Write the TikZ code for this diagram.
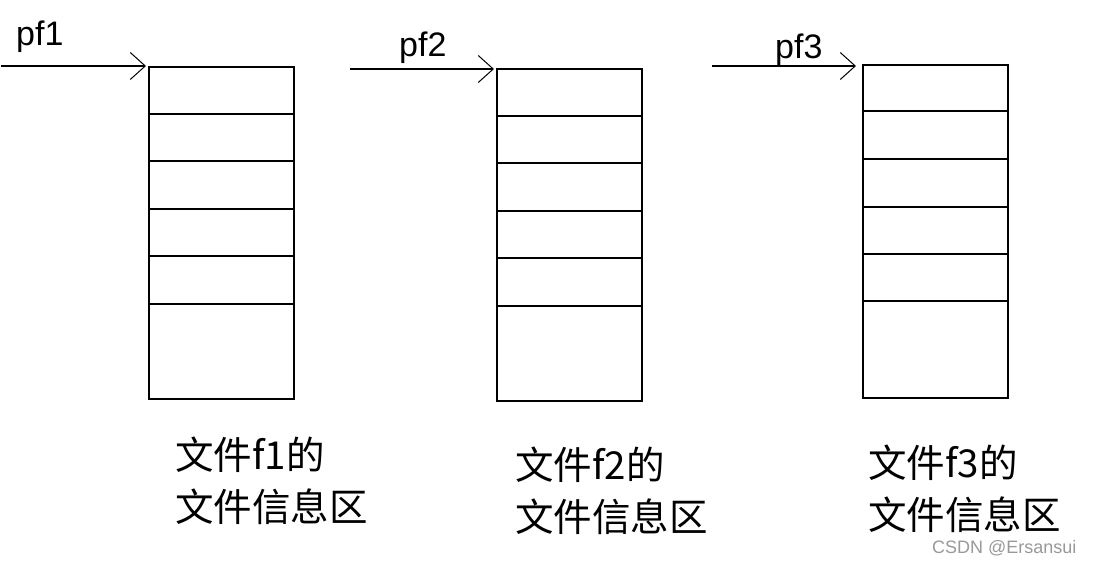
\documentclass[tikz,border=0pt]{standalone}
\usepackage{fontspec}
\setmainfont{Liberation Sans}
\newfontfamily\cjk{Noto Sans CJK SC}
\usetikzlibrary{arrows.meta}
\begin{document}
\begin{tikzpicture}[x=1pt,y=-1pt,
  frame/.style={draw, line width=2pt, minimum width=145pt, inner sep=0, anchor=north west},
  divider/.style={line width=2pt},
  ptr/.style={line width=1.6pt, -{Straight Barb[length=15pt,width=27pt,line width=1pt]}},
  lbl/.style={font=\fontsize{34}{40}\selectfont, anchor=base west, inner sep=0},
  captext/.style={font=\cjk\fontsize{38.5}{52}\selectfont, align=left, anchor=north west, inner sep=0},
  wm/.style={font=\fontsize{18}{22}\selectfont, text=black!40, anchor=base west, inner sep=0}]
\useasboundingbox (0,0) rectangle (1095,564);
\fill[white] (0,0) rectangle (1095,564);

% boxes
\node[frame, minimum height=332pt] (b1) at (148,66) {};
\node[frame, minimum height=332pt] (b2) at (496,68) {};
\node[frame, minimum height=333pt] (b3) at (862,64) {};

\foreach \y in {114,161,209,256,304} \draw[divider] (148,\y) -- (293,\y);
\foreach \y in {116,163,211,258,306} \draw[divider] (496,\y) -- (641,\y);
\foreach \y in {111,159,207,254,301} \draw[divider] (862,\y) -- (1007,\y);

% pointers
\coordinate (s1) at (1,66);
\coordinate (s2) at (350,69);
\coordinate (s3) at (712,66);
\draw[ptr] (s1) -- ([xshift=-2pt]b1.north west);
\draw[ptr] (s2) -- ([xshift=-2pt,yshift=-1pt]b2.north west);
\draw[ptr] (s3) -- ([xshift=-6pt,yshift=-2pt]b3.north west);

\node[lbl] (p1) at (16,46) {pf1};
\node[lbl] (p2) at (399,57) {pf2};
\node[lbl] (p3) at (775,59) {pf3};

% captions
\node[captext] (c1) at (175,437) {文件f1的\\文件信息区};
\node[captext] (c2) at (515,447) {文件f2的\\文件信息区};
\node[captext] (c3) at (868,445) {文件f3的\\文件信息区};

\node[wm] (w) at (932,553) {CSDN @Ersansui};
\end{tikzpicture}
\end{document}
